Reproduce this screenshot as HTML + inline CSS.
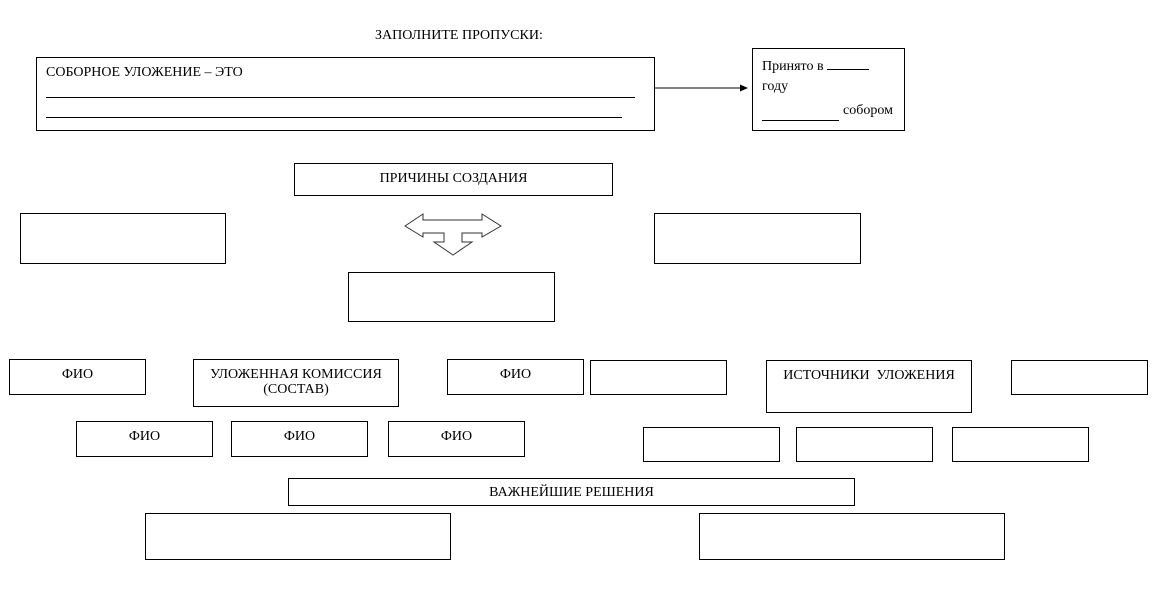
<!DOCTYPE html>
<html><head><meta charset="utf-8"><style>
body{margin:0;width:1155px;height:592px;background:#fff;position:relative;overflow:hidden;font-family:"Liberation Serif","DejaVu Serif",serif;font-size:14px;color:#000}
.b{position:absolute;border:1px solid #000;box-sizing:border-box;text-align:center;line-height:16px;padding-top:7px}
.t{position:absolute;white-space:nowrap}
.l{position:absolute;border-top:1px solid #000;height:0}
</style></head><body>
<div class="t" style="left:375px;top:28px">ЗАПОЛНИТЕ ПРОПУСКИ:</div>
<div class="b" style="left:36px;top:57px;width:619px;height:74px;text-align:left;padding-left:9px;padding-top:7px">СОБОРНОЕ УЛОЖЕНИЕ – ЭТО</div>
<div class="l" style="left:46px;top:97px;width:589px"></div>
<div class="l" style="left:46px;top:117px;width:576px"></div>
<svg style="position:absolute;left:0;top:0" width="1155" height="592">
<line x1="655" y1="88" x2="742" y2="88" stroke="#000" stroke-width="1"/>
<polygon points="748,88 740,84.5 740,91.5" fill="#000"/>
<polygon points="405,226 423,214 423,220 482,220 482,214 501,226 482,237 482,233 462,233 462,242 472,242 453,255 434,242 444,242 444,233 423,233 423,237" fill="#fff" stroke="#333" stroke-width="1"/>
</svg>
<div class="b" style="left:752px;top:48px;width:153px;height:83px;text-align:left;padding-left:9px;padding-top:6px;line-height:20px">Принято в <span style="border-bottom:1px solid #000;display:inline-block;width:42px;height:14px"></span><br>году</div>
<div class="l" style="left:762px;top:120px;width:77px"></div>
<div class="t" style="left:843px;top:103px">собором</div>
<div class="b" style="left:294px;top:163px;width:319px;height:33px">ПРИЧИНЫ СОЗДАНИЯ</div>
<div class="b" style="left:20px;top:213px;width:206px;height:51px"></div>
<div class="b" style="left:654px;top:213px;width:207px;height:51px"></div>
<div class="b" style="left:348px;top:272px;width:207px;height:50px"></div>
<div class="b" style="left:9px;top:359px;width:137px;height:36px">ФИО</div>
<div class="b" style="left:193px;top:359px;width:206px;height:48px;line-height:15px">УЛОЖЕННАЯ КОМИССИЯ<br>(СОСТАВ)</div>
<div class="b" style="left:447px;top:359px;width:137px;height:36px">ФИО</div>
<div class="b" style="left:590px;top:360px;width:137px;height:35px"></div>
<div class="b" style="left:766px;top:360px;width:206px;height:53px">ИСТОЧНИКИ &nbsp;УЛОЖЕНИЯ</div>
<div class="b" style="left:1011px;top:360px;width:137px;height:35px"></div>
<div class="b" style="left:76px;top:421px;width:137px;height:36px">ФИО</div>
<div class="b" style="left:231px;top:421px;width:137px;height:36px">ФИО</div>
<div class="b" style="left:388px;top:421px;width:137px;height:36px">ФИО</div>
<div class="b" style="left:643px;top:427px;width:137px;height:35px"></div>
<div class="b" style="left:796px;top:427px;width:137px;height:35px"></div>
<div class="b" style="left:952px;top:427px;width:137px;height:35px"></div>
<div class="b" style="left:288px;top:478px;width:567px;height:28px;padding-top:6px">ВАЖНЕЙШИЕ РЕШЕНИЯ</div>
<div class="b" style="left:145px;top:513px;width:306px;height:47px"></div>
<div class="b" style="left:699px;top:513px;width:306px;height:47px"></div>
</body></html>
